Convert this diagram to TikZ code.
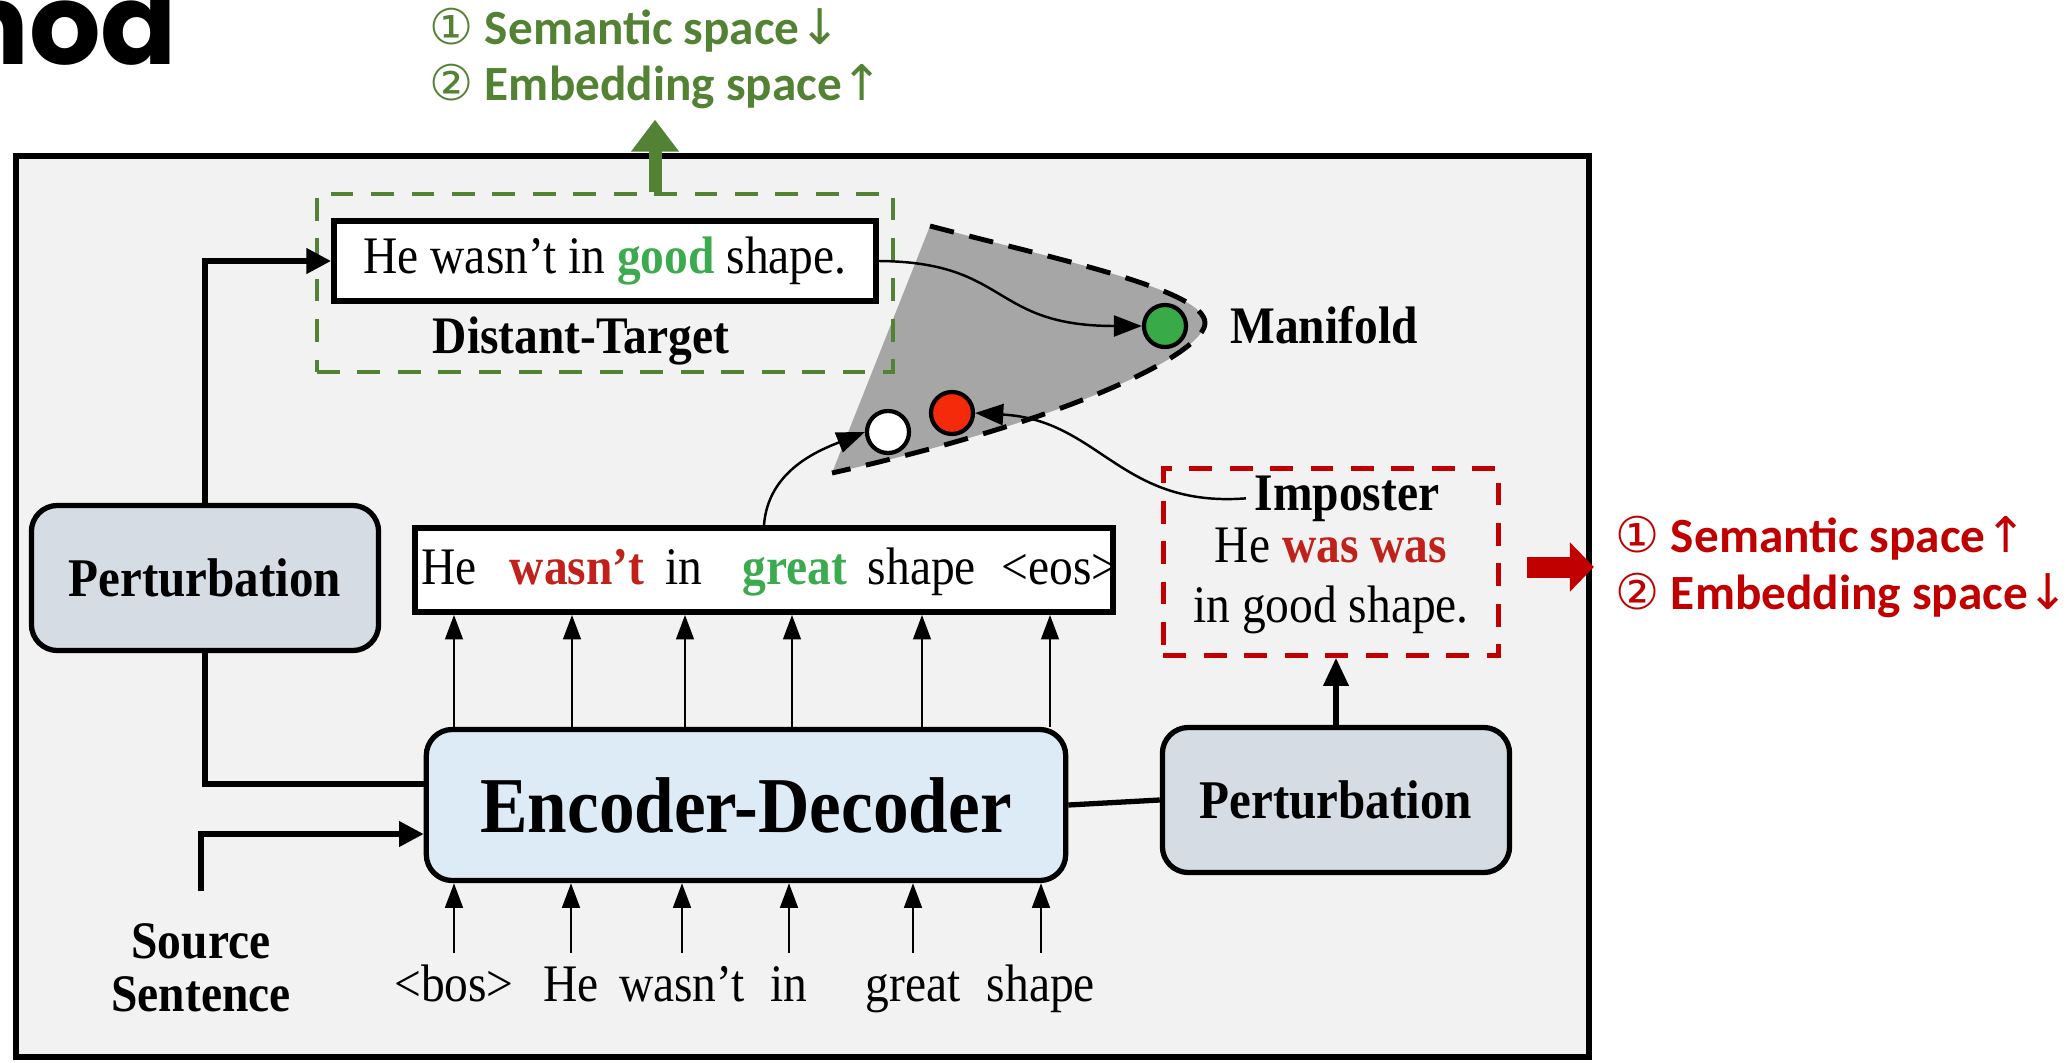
\documentclass[tikz,border=0pt]{standalone}
\usepackage{fontspec}
\setmainfont{Liberation Serif}[FakeStretch=0.9]
\newfontfamily\annofont{Carlito}
\newfontfamily\symfont{DejaVu Sans}
\newfontfamily\titlefont{Poppins}
\usetikzlibrary{arrows.meta,positioning}
\definecolor{FrameGray}{HTML}{F2F2F2}
\definecolor{PertFill}{HTML}{D6DCE4}
\definecolor{EncFill}{HTML}{DDEBF7}
\definecolor{AnnoGreen}{HTML}{548235}
\definecolor{AnnoRed}{HTML}{C00000}
\definecolor{WordGreen}{HTML}{3CAA4E}
\definecolor{WordRed}{HTML}{C0221B}
\definecolor{ManiGray}{HTML}{A6A6A6}
\definecolor{DotGreen}{HTML}{39AA48}
\definecolor{DotRed}{HTML}{F52A0A}
\newcommand{\gw}[1]{\textcolor{WordGreen}{\textbf{#1}}}
\newcommand{\rw}[1]{\textcolor{WordRed}{\textbf{#1}}}
\newcommand{\circsym}[1]{{\symfont\mdseries #1}}

\begin{document}
\begin{tikzpicture}[
  x=0.01cm, y=-0.01cm,
  font=\fontsize{15}{17}\selectfont,
  bold/.style={font=\fontsize{15}{17}\selectfont\bfseries},
  pert/.style={draw,line width=1.5pt,rounded corners=0.26cm,fill=PertFill,
    minimum width=3.47cm,minimum height=1.45cm,font=\fontsize{15.5}{17}\selectfont\bfseries},
  sentbox/.style={draw,line width=1.6pt,fill=white,inner sep=0pt},
  dashbox/.style={dash pattern=on 6.5pt off 5pt,line width=1.3pt,inner sep=0pt},
  dot/.style={circle,draw,line width=1.2pt,minimum size=0.42cm,inner sep=0pt},
  arrow/.style={-{Triangle[width=5pt,length=7pt]},line width=0.8pt},
  link/.style={line width=1.5pt},
  curvy/.style={-{Triangle[width=6pt,length=8pt]},line width=0.7pt},
  anno/.style={anchor=base west,inner sep=0pt,font=\fontsize{14}{16}\selectfont\annofont\bfseries}
]
  \useasboundingbox (0,0) rectangle (2071,1063);
  \clip (0,0) rectangle (2071,1063);

  \node[anchor=base east,inner sep=0pt,font=\fontsize{32}{32}\selectfont\titlefont\bfseries] (title) at (178,64) {Method};
  \node[anno,text=AnnoGreen] (gsem) at (429,44) {\circsym{①} Semantic space\circsym{↓}};
  \node[anno,text=AnnoGreen] (gemb) at (429,100) {\circsym{②} Embedding space\circsym{↑}};
  \node[anno,text=AnnoRed] (rsem) at (1615,552) {\circsym{①} Semantic space\circsym{↑}};
  \node[anno,text=AnnoRed] (remb) at (1615,609) {\circsym{②} Embedding space\circsym{↓}};

  \draw[line width=1.5pt,fill=FrameGray] (16,156) rectangle (1589,1057);

  \fill[ManiGray] (930,226) .. controls (1060,260) and (1205,290) .. (1205,323)
    .. controls (1205,350) and (1090,415) .. (832,473) -- cycle;
  \draw[line width=1.4pt,dash pattern=on 7pt off 4.5pt] (930,226) .. controls (1060,260) and (1205,290) .. (1205,323)
    .. controls (1205,350) and (1090,415) .. (832,473);

  \node[dashbox,draw=AnnoGreen,minimum width=5.76cm,minimum height=1.78cm] (dt) at (605,283) {};
  \node[sentbox,minimum width=5.42cm,minimum height=0.80cm] (good) at (605,261) {He wasn’t in \gw{good} shape.};
  \node[bold] (dtlab) at (581,341) {Distant-Target};

  \node[dashbox,draw=AnnoRed,minimum width=3.35cm,minimum height=1.87cm] (imp) at (1331,562) {};
  \node[bold,anchor=base,inner sep=0pt] (implab) at (1347,510) {Imposter};
  \node[align=center,inner sep=0pt] (impsent) at (1331,581) {He \rw{was was}\\ in good shape.};

  \node[dot,fill=DotGreen] (gdot) at (1165,326) {};
  \node[dot,fill=DotRed] (rdot) at (952,413) {};
  \node[dot,fill=white] (wdot) at (888,432) {};
  \node[bold,anchor=west] (mani) at (1218,325) {Manifold};

  \node[pert] (pl) at (205,578) {Perturbation};
  \node[pert] (pr) at (1336,800) {Perturbation};
  \node[draw,line width=1.5pt,rounded corners=0.26cm,fill=EncFill,minimum width=6.39cm,
    minimum height=1.51cm,font=\fontsize{22.5}{24}\selectfont\bfseries] (ed) at (746,805) {Encoder-Decoder};
  \node[sentbox,minimum width=6.97cm,minimum height=0.84cm] (tgt) at (764,570) {};
  \foreach \x/\w in {449/He, 577/\rw{wasn’t}, 684/in, 795/\gw{great}, 922/shape, 1060/<eos>}
    \node[anchor=base,inner sep=0pt] at (\x,584) {\w};

  \foreach \x in {454,572,685,792,922,1050}
    \draw[arrow] (ed.north -| \x,0) -- (tgt.south -| \x,0);
  \foreach \x/\w [count=\i] in {454/<bos>, 571/He, 682/wasn’t, 789/in, 913/great, 1041/shape}{
    \node[anchor=base,text height=0.36cm,text depth=0.1cm] (tok\i) at (\x,1001) {\w};
    \draw[arrow] (tok\i.north) -- (tok\i |- ed.south);
  }
  \node[bold,align=center,font=\fontsize{15}{15}\selectfont\bfseries] (src) at (201,968) {Source\\Sentence};

  \draw[link,-{Triangle[width=7pt,length=7pt]}] (pl.north) |- (good.west);
  \draw[link] (pl.south) |- ([yshift=0.21cm]ed.west);
  \draw[link,-{Triangle[width=7pt,length=7pt]}] ([yshift=0.2cm]src.north) |- ([yshift=-0.29cm]ed.west);
  \draw[link] (ed.east) -- (pr.west);
  \draw[link,-{Triangle[width=7pt,length=8pt]}] (pr.north) -- (pr.north |- imp.south);

  \draw[curvy] (good.east) .. controls (1010,262) and (990,326) .. (gdot.west);
  \draw[curvy] (tgt.north) .. controls (768,470) and (820,450) .. (wdot.west);
  \draw[curvy] ([xshift=-0.08cm]implab.west) .. controls (1120,508) and (1100,420) .. (rdot.east);

  \draw[-{Triangle[width=0.46cm,length=0.32cm]},line width=0.13cm,AnnoGreen] ([xshift=0.5cm]dt.north) -- ++(0,-72);
  \draw[-{Triangle[width=0.48cm,length=0.24cm]},line width=0.21cm,AnnoRed] ([xshift=0.26cm,yshift=-0.05cm]imp.east) -- ++(67,0);
\end{tikzpicture}
\end{document}
